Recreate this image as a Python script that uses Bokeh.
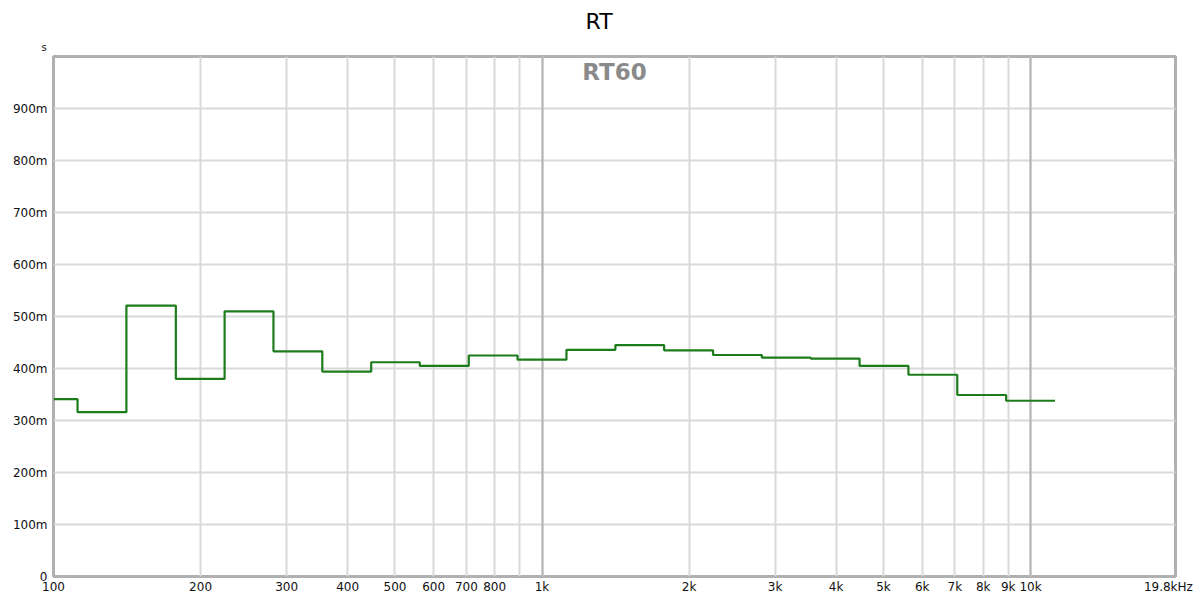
from bokeh.plotting import figure
from bokeh.models import FixedTicker, Label, Grid, Range1d, Title
from bokeh.embed import file_html
from bokeh.resources import INLINE

# 1/3-octave band edges (Hz) and RT60 per band (s): 100 Hz .. 10 kHz bands
band_edges_hz = [100, 112, 141, 178, 224, 282, 355, 447, 562, 708, 891, 1122,
                 1413, 1778, 2239, 2818, 3548, 4467, 5623, 7079, 8913, 11220]
rt60_s = [0.341, 0.316, 0.521, 0.380, 0.510, 0.433, 0.394, 0.412, 0.405, 0.425,
          0.417, 0.436, 0.445, 0.435, 0.426, 0.421, 0.419, 0.405, 0.388, 0.349, 0.338]

x_ticks = [100, 200, 300, 400, 500, 600, 700, 800, 900,
           1000, 2000, 3000, 4000, 5000, 6000, 7000, 8000, 9000, 10000, 19800]
x_tick_labels = ["100", "200", "300", "400", "500", "600", "700", "800", "",
                 "1k", "2k", "3k", "4k", "5k", "6k", "7k", "8k", "9k", "10k",
                 "19.8kHz\u00a0\u00a0"]
x_decades = [1000, 10000]
y_ticks = [0, 0.1, 0.2, 0.3, 0.4, 0.5, 0.6, 0.7, 0.8, 0.9]
y_tick_labels = ["0", "100m", "200m", "300m", "400m", "500m", "600m", "700m", "800m", "900m"]

x_min, x_max = 100, 19800
y_min, y_max = 0.0, 1.0

FONT = "DejaVu Sans"

p = figure(width=1200, height=599, x_axis_type="log",
           x_range=Range1d(x_min, x_max), y_range=Range1d(y_min, y_max),
           output_backend="svg", toolbar_location=None,
           min_border_left=53, min_border_right=25, min_border_top=56, min_border_bottom=23)

p.background_fill_color = "white"
p.border_fill_color = "white"
p.outline_line_color = "#b0b0b0"
p.outline_line_width = 3
p.title.text = ""

# axes
p.xaxis.ticker = FixedTicker(ticks=x_ticks)
p.xaxis.major_label_overrides = {t: l for t, l in zip(x_ticks, x_tick_labels)}
p.yaxis.ticker = FixedTicker(ticks=y_ticks)
p.yaxis.major_label_overrides = {t: l for t, l in zip(y_ticks, y_tick_labels)}
for ax in (p.xaxis, p.yaxis):
    ax.axis_line_color = None
    ax.major_tick_line_color = None
    ax.minor_tick_line_color = None
    ax.major_tick_out = 0
    ax.major_tick_in = 0
    ax.minor_tick_out = 0
    ax.minor_tick_in = 0
    ax.major_label_text_font = FONT
    ax.major_label_text_font_size = "12px"
    ax.major_label_text_color = "#111111"
p.xaxis.major_label_standoff = 3
p.yaxis.major_label_standoff = 6

# grids
p.xgrid.ticker = FixedTicker(ticks=x_ticks)
p.ygrid.ticker = FixedTicker(ticks=y_ticks)
for g in (p.xgrid, p.ygrid):
    g.grid_line_color = "#d9d9d9"
    g.grid_line_width = 2
dec_grid = Grid(dimension=0, ticker=FixedTicker(ticks=x_decades),
                grid_line_color="#b4b4b4", grid_line_width=2)
p.add_layout(dec_grid)

# RT60 step curve
step_y = rt60_s + [rt60_s[-1]]
p.step(x=band_edges_hz, y=step_y, mode="after", line_color="#1c7c1c", line_width=2.2)

# titles above the frame
p.add_layout(Title(text="s", align="left", offset=-12, standoff=7,
                   text_font=FONT, text_font_size="10px", text_font_style="normal",
                   text_color="#111111"), "above")
p.add_layout(Title(text="RT", align="left", offset=532, standoff=6,
                   text_font=FONT, text_font_size="22px", text_font_style="normal",
                   text_color="#000000"), "above")

# in-plot label
p.add_layout(Label(x=(x_min * x_max) ** 0.5, y=y_max, y_offset=-2, text="RT60",
                   text_align="center", text_baseline="top", text_font=FONT,
                   text_font_size="23px", text_font_style="bold", text_color="#8a8a8a"))

open("out.html", "w").write(file_html(p, INLINE))
